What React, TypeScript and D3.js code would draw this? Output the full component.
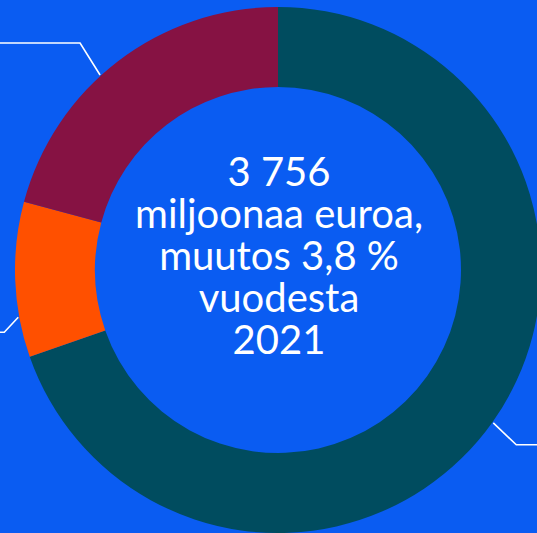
import React from "react";
import * as d3 from "d3";

// osuudet, miljoonaa euroa (yhteensä 3 756)
const categories = ["Osa A", "Osa B", "Osa C"];
const values = [2616, 358, 782];
const colors = ["#004c5f", "#ff5000", "#861243"];

const centerLines = ["3 756", "miljoonaa euroa,", "muutos 3,8 %", "vuodesta", "2021"];

const W = 537;
const H = 533;

// connector tweaks per slice (Highcharts-style label connectors, labels fall outside the crop)
const connectors = [
  { nudge: 0, dx: 23, dy: 22, side: 1 },
  { nudge: -8.2, dx: -14, dy: 15, side: -1 },
  { nudge: -4.9, dx: -20, dy: -32, side: -1 },
];

export default function App() {
  const cx = 278;
  const cy = 270;
  const outer = 263;
  const inner = 183;

  const pie = d3.pie<number>().sort(null).value((d) => d);
  const arcs = pie(values);
  const arc = d3.arc<d3.PieArcDatum<number>>().innerRadius(inner).outerRadius(outer);

  const lineH = 41.8;

  return (
    <div style={{ position: "fixed", left: 0, top: 0 }}>
      <svg width={W} height={H} style={{ display: "block" }}>
        <rect width={W} height={H} fill="#0a5cf2" />
        <g transform={`translate(${cx},${cy})`}>
          {arcs.map((a, i) => (
            <path key={categories[i]} d={arc(a) ?? ""} fill={colors[i]} />
          ))}
          {arcs.map((a, i) => {
            const c = connectors[i];
            const ang = (a.startAngle + a.endAngle) / 2 + (c.nudge * Math.PI) / 180;
            const x0 = Math.sin(ang) * (outer + 1);
            const y0 = -Math.cos(ang) * (outer + 1);
            const x1 = x0 + c.dx;
            const y1 = y0 + c.dy;
            const x2 = c.side > 0 ? W - cx : -cx;
            return (
              <path
                key={"c" + i}
                d={`M${x0},${y0}L${x1},${y1}L${x2},${y1}`}
                fill="none"
                stroke="#ffffff"
                strokeWidth={1.6}
              />
            );
          })}
          <text
            fill="#ffffff"
            textAnchor="middle"
            style={{ fontFamily: "Lato, sans-serif", fontSize: 40 }}
          >
            {centerLines.map((t, i) => (
              <tspan key={i} x={1} y={(i - 2) * lineH}>
                {t}
              </tspan>
            ))}
          </text>
        </g>
      </svg>
    </div>
  );
}
